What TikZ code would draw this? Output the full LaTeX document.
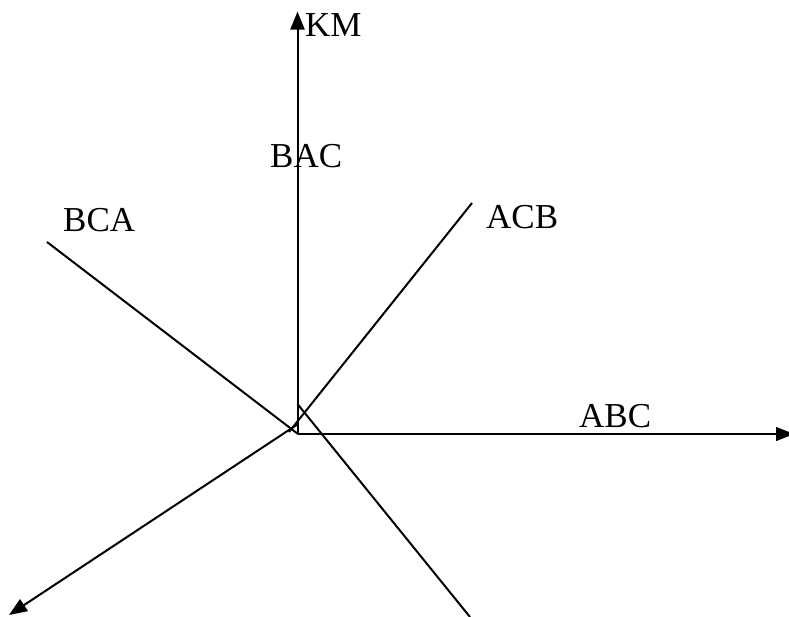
\documentclass[tikz,border=0pt]{standalone}
\usepackage{fontspec}
\setmainfont{Liberation Serif}
\usetikzlibrary{arrows.meta}
\begin{document}
\begin{tikzpicture}[x=1pt,y=-1pt,
  ln/.style={line width=2pt, line cap=butt},
  thin/.style={line width=1.1pt},
  tip/.style={-{Triangle[length=18pt,width=14pt]}},
  lbl/.style={inner sep=0pt, anchor=base west, font=\fontsize{35}{42}\selectfont}]
\useasboundingbox (0,0) rectangle (789,616);
% points
\coordinate (O) at (297.5,434);
\coordinate (top) at (297.5,11.5);
\coordinate (right) at (794,434);
\coordinate (abcend) at (683,434);
\coordinate (bcastart) at (47,242);
\coordinate (bcaend) at (298,434);
\coordinate (acbstart) at (472,203);
\coordinate (acbend) at (289,432);
\coordinate (llstart) at (298,424);
\coordinate (lltip) at (9,615);
\coordinate (drstart) at (297.5,404);
\coordinate (drend) at (470,617);
% axes
\draw[ln,tip] (O) -- (top);
\draw[thin,tip] (O) -- (right);
\draw[ln] (O) -- (abcend);
% lines
\draw[ln] (bcastart) -- (bcaend);
\draw[ln] (acbstart) -- (acbend);
\draw[ln,tip] (llstart) -- (lltip);
\draw[ln] (drstart) -- (drend);
% labels
\node[lbl] (km) at (305,36) {KM};
\node[lbl] (bac) at (270,167) {BAC};
\node[lbl] (bca) at (63,231) {BCA};
\node[lbl] (acb) at (486,228) {ACB};
\node[lbl] (abc) at (579,427) {ABC};
\end{tikzpicture}
\end{document}
